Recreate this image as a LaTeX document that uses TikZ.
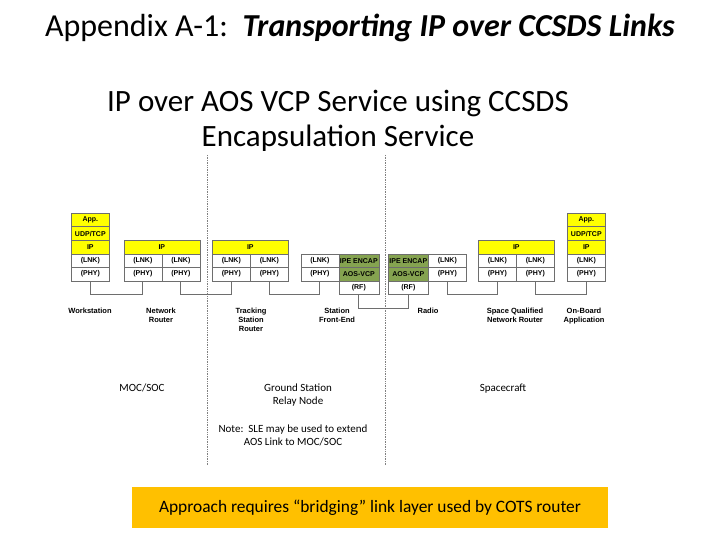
\documentclass[tikz,border=0pt]{standalone}
\usepackage{fontspec}
\setmainfont{Carlito}
\newfontfamily\cellfont{Liberation Sans}
\definecolor{cellyel}{RGB}{255,255,0}
\definecolor{cellgreen}{RGB}{133,163,80}
\definecolor{bannerorange}{RGB}{255,192,0}
\definecolor{edgegray}{RGB}{110,110,110}
\begin{document}
\begin{tikzpicture}[x=1pt,y=-1pt,
  cell/.style={draw=edgegray,line width=0.7pt,inner sep=0pt,minimum height=13.5pt,
    font=\cellfont\bfseries\fontsize{7}{7}\selectfont,anchor=north west},
  yel/.style={cell,fill=cellyel},
  grn/.style={cell,fill=cellgreen},
  wht/.style={cell,fill=white},
  devlabel/.style={font=\cellfont\bfseries\fontsize{7.5}{9}\selectfont,align=center,anchor=north,inner sep=0pt},
  zonelabel/.style={font=\fontsize{11}{13}\selectfont,align=center,anchor=north,inner sep=0pt},
  link/.style={draw=edgegray,line width=0.8pt},
  divider/.style={draw=gray,line width=0.7pt,densely dotted}]
\useasboundingbox (0,0) rectangle (720,540);
\fill[white] (0,0) rectangle (720,540);

% titles
\node[inner sep=0pt,font=\fontsize{32}{36}\selectfont] (title) at (360,28)
  {Appendix A-1:\ \ \textbf{\textit{Transporting IP over CCSDS Links}}};
\node[inner sep=0pt,font=\fontsize{31}{35}\selectfont,align=center] (subtitle) at (338,121)
  {IP over AOS VCP Service using CCSDS\\Encapsulation Service};

% dividers
\coordinate (d1t) at (207.5,155); \coordinate (d1b) at (207.5,465);
\coordinate (d2t) at (385,155); \coordinate (d2b) at (385,465);
\draw[divider] (d1t) -- (d1b);
\draw[divider] (d2t) -- (d2b);

% Workstation
\node[yel,minimum width=38pt] (ws-app) at (71,213) {App.};
\node[yel,minimum width=38pt] (ws-udp) at (71,226.5) {UDP/TCP};
\node[yel,minimum width=38pt] (ws-ip) at (71,240) {IP};
\node[wht,minimum width=38pt] (ws-lnk) at (71,253.5) {(LNK)};
\node[wht,minimum width=38pt] (ws-phy) at (71,267) {(PHY)};

% Network router
\node[yel,minimum width=76pt] (nr-ip) at (123.5,240) {IP};
\node[wht,minimum width=38pt] (nr-lnk1) at (123.5,253.5) {(LNK)};
\node[wht,minimum width=38pt] (nr-lnk2) at (161.5,253.5) {(LNK)};
\node[wht,minimum width=38pt] (nr-phy1) at (123.5,267) {(PHY)};
\node[wht,minimum width=38pt] (nr-phy2) at (161.5,267) {(PHY)};

% Tracking station router
\node[yel,minimum width=76pt] (tr-ip) at (212,240) {IP};
\node[wht,minimum width=38pt] (tr-lnk1) at (212,253.5) {(LNK)};
\node[wht,minimum width=38pt] (tr-lnk2) at (250,253.5) {(LNK)};
\node[wht,minimum width=38pt] (tr-phy1) at (212,267) {(PHY)};
\node[wht,minimum width=38pt] (tr-phy2) at (250,267) {(PHY)};

% Station front-end
\node[wht,minimum width=38pt] (sf-lnk) at (300.5,253.5) {(LNK)};
\node[wht,minimum width=38pt] (sf-phy) at (300.5,267) {(PHY)};
\node[grn,minimum width=40pt] (sf-ipe) at (338.5,253.5) {IPE ENCAP};
\node[grn,minimum width=40pt] (sf-aos) at (338.5,267) {AOS-VCP};
\node[wht,minimum width=40pt] (sf-rf) at (338.5,280.5) {(RF)};

% Radio
\node[grn,minimum width=40pt] (ra-ipe) at (388,253.5) {IPE ENCAP};
\node[grn,minimum width=40pt] (ra-aos) at (388,267) {AOS-VCP};
\node[wht,minimum width=40pt] (ra-rf) at (388,280.5) {(RF)};
\node[wht,minimum width=38pt] (ra-lnk) at (428,253.5) {(LNK)};
\node[wht,minimum width=38pt] (ra-phy) at (428,267) {(PHY)};

% Space qualified router
\node[yel,minimum width=76pt] (sr-ip) at (478,240) {IP};
\node[wht,minimum width=38pt] (sr-lnk1) at (478,253.5) {(LNK)};
\node[wht,minimum width=38pt] (sr-lnk2) at (516,253.5) {(LNK)};
\node[wht,minimum width=38pt] (sr-phy1) at (478,267) {(PHY)};
\node[wht,minimum width=38pt] (sr-phy2) at (516,267) {(PHY)};

% On-board application
\node[yel,minimum width=38pt] (ob-app) at (567,213) {App.};
\node[yel,minimum width=38pt] (ob-udp) at (567,226.5) {UDP/TCP};
\node[yel,minimum width=38pt] (ob-ip) at (567,240) {IP};
\node[wht,minimum width=38pt] (ob-lnk) at (567,253.5) {(LNK)};
\node[wht,minimum width=38pt] (ob-phy) at (567,267) {(PHY)};

% links
\draw[link] (ws-phy.south) -- ++(0,13.5) -| (nr-phy1.south);
\draw[link] (nr-phy2.south) -- ++(0,13.5) -| (tr-phy1.south);
\draw[link] (tr-phy2.south) -- ++(0,13.5) -| (sf-phy.south);
\draw[link] (sf-rf.south) -- ++(0,13.5) -| (ra-rf.south);
\draw[link] (ra-phy.south) -- ++(0,13.5) -| (sr-phy1.south);
\draw[link] (sr-phy2.south) -- ++(0,13.5) -| (ob-phy.south);

% device labels
\node[devlabel] (l-ws) at (90,307.5) {Workstation};
\node[devlabel] (l-nr) at (161,307.5) {Network\\Router};
\node[devlabel] (l-tr) at (251,307.5) {Tracking\\Station\\Router};
\node[devlabel] (l-sf) at (337,307.5) {Station\\Front-End};
\node[devlabel] (l-ra) at (428,307.5) {Radio};
\node[devlabel] (l-sr) at (515,307.5) {Space Qualified\\Network Router};
\node[devlabel] (l-ob) at (584,307.5) {On-Board\\Application};

% zone labels
\node[zonelabel] (z-moc) at (142,383.5) {MOC/SOC};
\node[zonelabel] (z-gs) at (298,383.5) {Ground Station\\Relay Node};
\node[zonelabel] (z-note) at (293,425) {Note:\ \ SLE may be used to extend\\AOS Link to MOC/SOC};
\node[zonelabel] (z-sc) at (503,383.5) {Spacecraft};

% banner
\node[fill=bannerorange,minimum width=476pt,minimum height=41.5pt,inner sep=0pt,
  font=\fontsize{17.4}{19}\selectfont] (banner) at (370,507.5)
  {Approach requires “bridging” link layer used by COTS router};
\end{tikzpicture}
\end{document}
